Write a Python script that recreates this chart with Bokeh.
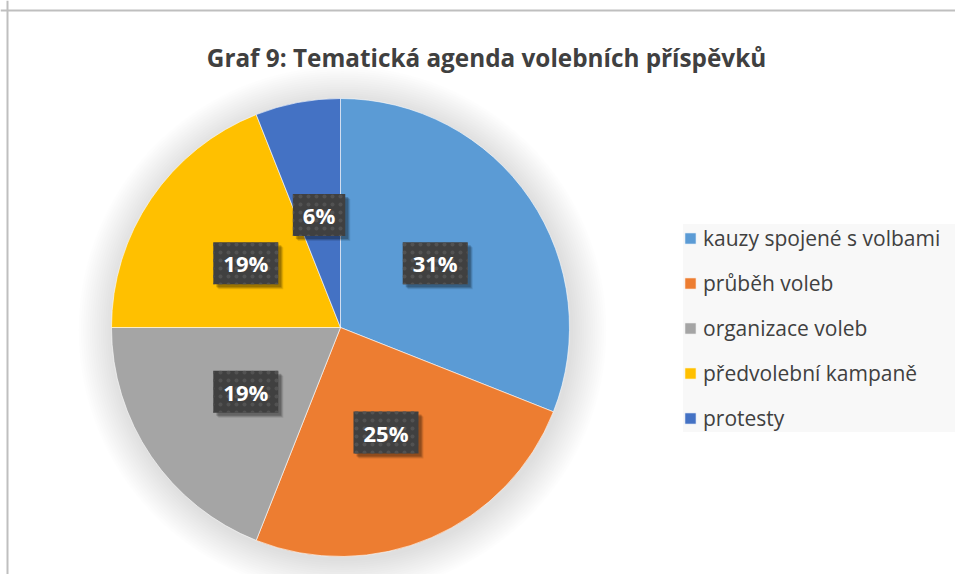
import math
from bokeh.plotting import figure
from bokeh.models import Range1d, Legend, LegendItem, Label, Span, ColumnDataSource
from bokeh.core.properties import value
from bokeh.embed import file_html
from bokeh.resources import INLINE

title = "Graf 9: Tematická agenda volebních příspěvků"
categories = ["kauzy spojené s volbami", "průběh voleb", "organizace voleb",
              "předvolební kampaně", "protesty"]
shares = [31, 25, 19, 19, 6]
colors = ["#5B9BD5", "#ED7D31", "#A5A5A5", "#FFC000", "#4472C4"]

W, H = 955, 574
FONT = value("Open Sans")
p = figure(width=W, height=H, x_range=Range1d(0, W), y_range=Range1d(0, H),
           output_backend="svg", toolbar_location=None, min_border=0,
           x_axis_location=None, y_axis_location=None)
p.grid.visible = False
p.outline_line_color = None
p.background_fill_color = "white"
p.border_fill_color = "white"

# pie geometry (layout)
cx, cy, R = 340, H - 327, 229

# soft shadow around pie
for k in range(16):
    p.circle(x=cx + 2, y=cy - 3, radius=R + 2 + k * 2.2, fill_color="black",
             fill_alpha=0.007, line_color=None)

total = sum(shares)
starts, ends, lx, ly, texts = [], [], [], [], []
cum = 0
for s in shares:
    a0 = math.pi / 2 - 2 * math.pi * (cum + s) / total
    a1 = math.pi / 2 - 2 * math.pi * cum / total
    starts.append(a0)
    ends.append(a1)
    m = (a0 + a1) / 2
    lx.append(cx + 0.5 * R * math.cos(m))
    ly.append(cy + 0.5 * R * math.sin(m))
    texts.append(f"{s}%")
    cum += s

src = ColumnDataSource(dict(cat=categories, share=shares, color=colors,
                            start=starts, end=ends, lx=lx, ly=ly, text=texts))

r = p.wedge(x=cx, y=cy, radius=R, start_angle="start", end_angle="end",
            fill_color="color", line_color="white", line_width=0.6, source=src)

pad = dict(left=10, right=10, top=6, bottom=6)
# box shadows
for off, al in [(5, 0.10), (4, 0.15), (3, 0.2)]:
    p.text(x="lx", y="ly", text="text", source=src, text_align="center",
           text_baseline="middle", text_font=FONT, text_font_style="bold",
           text_font_size="22px", text_alpha=0, x_offset=off, y_offset=off,
           background_fill_color="black", background_fill_alpha=al, padding=pad)
p.text(x="lx", y="ly", text="text", source=src, text_align="center",
       text_baseline="middle", text_font=FONT, text_font_style="bold",
       text_font_size="22px", text_color="white",
       background_fill_color="#404040", background_fill_alpha=1,
       background_hatch_pattern=".", background_hatch_color="#525252",
       background_hatch_scale=8, padding=pad)

items = [LegendItem(label=c, renderers=[r], index=i) for i, c in enumerate(categories)]
legend = Legend(items=items, location=(683, H - 432), orientation="vertical",
                glyph_width=14, glyph_height=14, label_standoff=6,
                label_width=254, label_height=28, spacing=17, padding=10, margin=0,
                background_fill_color="#f8f8f8", background_fill_alpha=1,
                border_line_color=None, label_text_font="Open Sans",
                label_text_font_size="21px", label_text_color="#404040")
p.add_layout(legend)

p.add_layout(Label(x=486, y=H - 57, text=title, text_align="center",
                   text_baseline="alphabetic", text_font="Open Sans",
                   text_font_style="bold", text_font_size="24.3px",
                   text_color="#404040"))

p.add_layout(Span(location=7, dimension="height", line_color="#bfbfbf", line_width=2))
p.add_layout(Span(location=H - 10, dimension="width", line_color="#bfbfbf", line_width=2))

open("out.html", "w").write(file_html(p, INLINE))
